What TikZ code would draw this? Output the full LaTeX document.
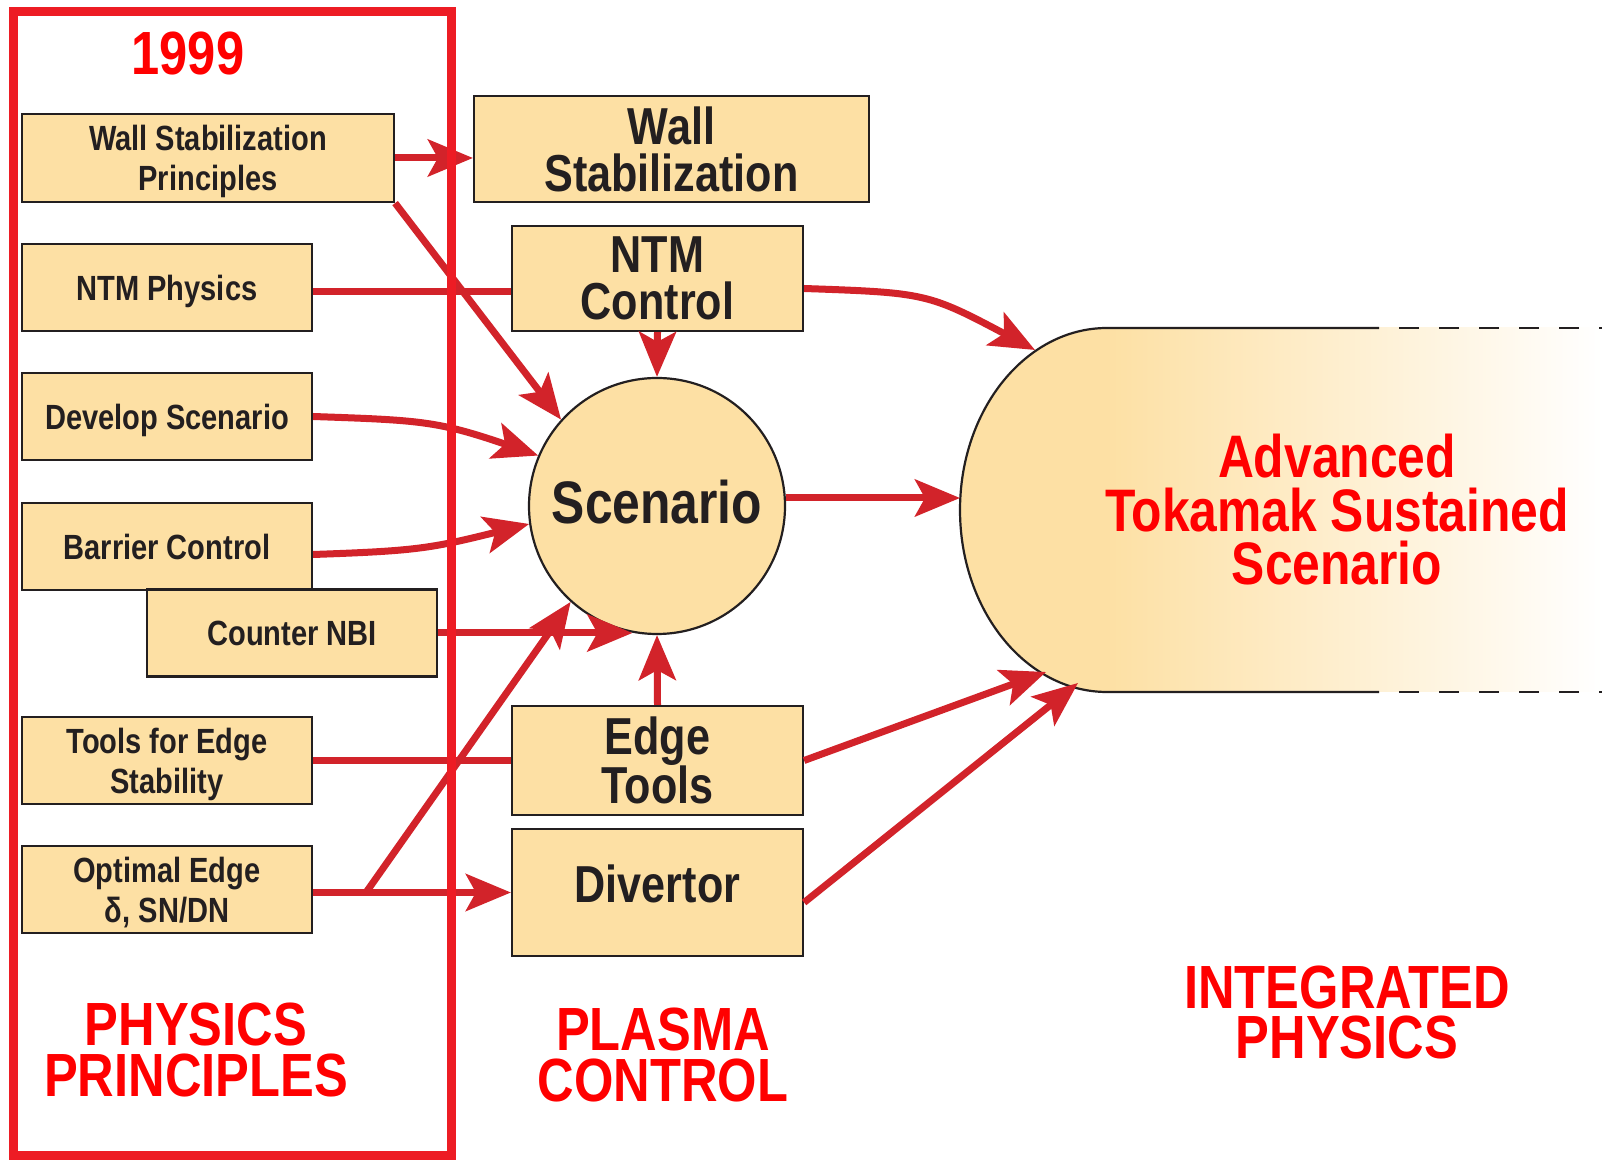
\documentclass[tikz,border=0pt]{standalone}
\usepackage{fontspec}
\setmainfont{Liberation Sans}[FakeStretch=0.83]
\usetikzlibrary{arrows.meta}

\definecolor{boxfill}{RGB}{253,224,164}
\definecolor{ink}{RGB}{35,31,32}
\definecolor{framered}{RGB}{237,28,36}
\definecolor{arrowred}{RGB}{210,35,42}
\definecolor{titlered}{RGB}{255,0,0}

\begin{document}
\begin{tikzpicture}[x=1pt,y=1pt,
  box/.style={draw=ink,line width=2.2pt,fill=boxfill,inner sep=0pt,align=center,text=ink},
  pbox/.style={box,minimum width=290pt,minimum height=87pt,text depth=0pt,font=\bfseries\fontsize{35}{40}\selectfont},
  cbox/.style={box,minimum width=291pt,font=\bfseries\fontsize{52}{47}\selectfont},
  heading/.style={text=titlered,align=center,font=\bfseries\fontsize{61}{50.5}\selectfont},
  link/.style={arrowred,line width=7pt},
  flow/.style={link,-{Stealth[length=45pt,width=37pt,inset=10pt]}}]
\fill[white] (0,0) rectangle (1602,1159);
\useasboundingbox (0,0) rectangle (1602,1159);

% integrated scenario, fading out to the right
\fill[boxfill] (1107,831) arc[start angle=90,end angle=270,x radius=147,y radius=182] -- cycle;
\shade[left color=boxfill,right color=white] (1107,467) rectangle (1602,831);
\draw[ink,line width=2.2pt] (1379,831) -- (1107,831)
  arc[start angle=90,end angle=270,x radius=147,y radius=182] -- (1379,467);
\draw[ink,line width=2.5pt,dash pattern=on 20pt off 20pt,dash phase=20pt]
  (1379,831) -- (1602,831) (1379,467) -- (1602,467);
\coordinate (ats-nw) at (1035,809);
\coordinate (ats-w) at (960,661);
\coordinate (ats-sw) at (1046,487);
\coordinate (ats-s) at (1078,476);
\node[text=titlered,align=center,font=\bfseries\fontsize{60}{53.5}\selectfont] (ats) at (1337,649)
  {Advanced\\Tokamak Sustained\\Scenario};

% physics principles
\node[pbox,minimum width=372pt,minimum height=88pt] (wsp) at (208,1001) {Wall Stabilization\\Principles};
\node[pbox] (ntmp) at (167,871.5) {NTM Physics};
\node[pbox] (dev) at (167,742.5) {Develop Scenario};
\node[pbox] (bar) at (167,612.5) {Barrier Control};
\node[pbox] (cnbi) at (292,526) {Counter NBI};
\node[pbox] (tes) at (167,398.5) {Tools for Edge\\Stability};
\node[pbox] (oe) at (167,269.5) {Optimal Edge\\δ, SN/DN};

% plasma control
\node[cbox,minimum width=395pt,minimum height=106pt] (ws) at (671.5,1010) {Wall\\Stabilization};
\node[cbox,minimum height=105pt] (ntmc) at (657.5,880.5) {NTM\\Control};
\node[box,circle,minimum size=256pt,text depth=8pt,font=\bfseries\fontsize{60}{60}\selectfont] (sc) at (657,653) {Scenario};
\node[cbox,minimum height=109pt] (et) at (657.5,398.5) {Edge\\Tools};
\node[cbox,minimum height=127pt,text depth=18pt] (div) at (657.5,266.5) {Divertor};

\node[heading] (year) at (188,1105) {1999};
\node[heading] (pp) at (196,109) {PHYSICS\\PRINCIPLES};
\node[heading] (pc) at (663,104) {PLASMA\\CONTROL};
\node[heading] (ip) at (1347,146.5) {INTEGRATED\\PHYSICS};

\draw[flow] (wsp.east) -- (wsp.east -| ws.west);
\draw[flow] (wsp.south east) -- (sc.138);
\draw[link] ([yshift=-4pt]ntmp.east) -- ([yshift=-4pt]ntmp.east -| ntmc.west);
\draw[flow] (ntmc.south) -- (sc.north);
\draw[flow] ([yshift=-10pt]ntmc.east) to[out=-2,in=152,looseness=1.3] (ats-nw);
\draw[flow] (dev.east) to[out=-2,in=161,looseness=1.2] (sc.157);
\draw[flow] ([yshift=-8pt]bar.east) to[out=2,in=194,looseness=1.2] (sc.188);
\draw[flow] (cnbi.east) -- (cnbi.east -| sc.259);
\draw[link] (tes.east) -- (tes.east -| et.west);
\draw[flow] (et.north) -- (sc.south);
\coordinate (split) at (366,266.5);
\draw[link] (oe.east |- div.west) -- (split);
\draw[flow] (split) -- (div.west);
\draw[flow] (split) -- (sc.228);
\draw[flow] (sc.east |- ats-w) -- (ats-w);
\draw[flow] (et.east) -- (ats-sw);
\draw[flow] ([yshift=-10pt]div.east) -- (ats-s);

\draw[framered,line width=9pt] (13.5,4) rectangle (451,1147.5);
\end{tikzpicture}
\end{document}
